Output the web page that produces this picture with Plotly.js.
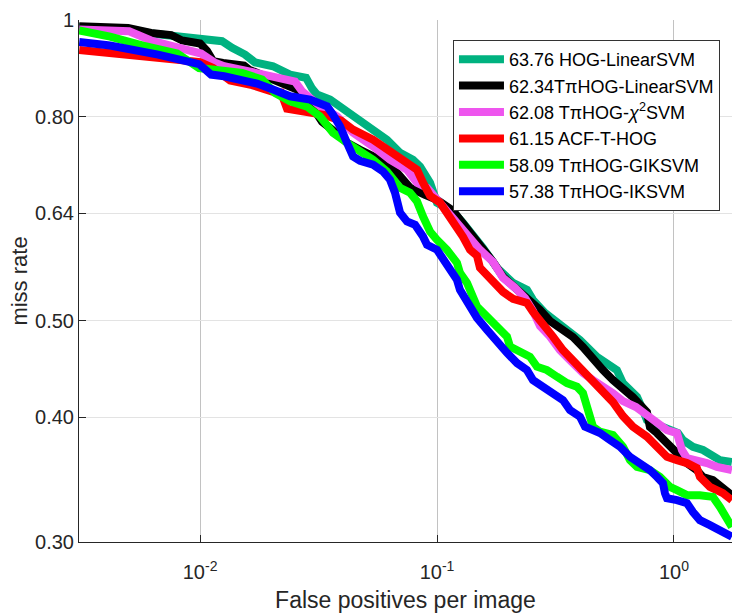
<!DOCTYPE html>
<html>
<head>
<meta charset="utf-8">
<script src="https://cdn.plot.ly/plotly-3.0.1.min.js"></script>
<style>html,body{margin:0;padding:0;background:#fff;}#chart{width:732px;height:613px;}</style>
</head>
<body>
<div id="chart"></div>
<script>
// ---- data (false positives per image, miss rate) ----
const seriesNames = [
  "63.76 HOG-LinearSVM",
  "62.34T\u03c0HOG-LinearSVM",
  "62.08 T\u03c0HOG-<i>\u03c7</i><sup>2</sup>SVM",
  "61.15 ACF-T-HOG",
  "58.09 T\u03c0HOG-GIKSVM",
  "57.38 T\u03c0HOG-IKSVM"
];
const seriesColors = ["#00b280", "#000000", "#ee55ee", "#ff0000", "#00ff00", "#0000ff"];

const fppiHogLinear = [0.00309,0.00497,0.00621,0.00762,0.0100,0.01238,0.01365,0.01548,0.01707,0.02032,0.02397,0.02802,0.02970,0.03116,0.03536,0.04052,0.04597,0.05423,0.06152,0.06982,0.07918,0.08479,0.09344,0.1000,0.1102,0.1168,0.1287,0.1418,0.1563,0.1792,0.2093,0.2397,0.2541,0.2856,0.3304,0.3640,0.4012,0.4732,0.5166,0.5746,0.6093,0.6982,0.7398,0.7692,0.8155,0.9344,1.0396,1.0913,1.2028,1.326,1.461,1.563,1.756];
const mrHogLinear = [0.9840,0.9794,0.9693,0.9637,0.9597,0.9522,0.9378,0.9234,0.9066,0.8989,0.8817,0.8751,0.8537,0.8420,0.8323,0.8133,0.7945,0.7747,0.7587,0.7363,0.7245,0.7134,0.6871,0.6561,0.6486,0.6427,0.6264,0.6094,0.5913,0.5646,0.5454,0.5367,0.5244,0.5089,0.4949,0.4870,0.4781,0.4599,0.4543,0.4460,0.4328,0.4193,0.4067,0.3975,0.3947,0.3902,0.3857,0.3796,0.3737,0.3709,0.3652,0.3624,0.3607];

const fppiTpiLinear = [0.00309,0.00497,0.00621,0.00755,0.00840,0.0100,0.0107,0.01135,0.0125,0.01533,0.0161,0.0188,0.02176,0.02566,0.02912,0.03272,0.03606,0.04172,0.04732,0.05746,0.06781,0.07692,0.0890,0.1000,0.1168,0.1287,0.1418,0.1563,0.1723,0.1899,0.2093,0.2240,0.2468,0.2720,0.2998,0.3401,0.3748,0.4130,0.4551,0.5017,0.5529,0.6093,0.6714,0.7692,0.7918,0.8479,0.9344,1.0296,1.135,1.250,1.326,1.461,1.610,1.756];
const mrTpiLinear = [0.9858,0.9817,0.9704,0.9659,0.9538,0.9472,0.9309,0.9096,0.9055,0.9002,0.8919,0.8797,0.8676,0.8517,0.8246,0.7909,0.7765,0.7534,0.7414,0.7245,0.7031,0.6792,0.6683,0.6607,0.6441,0.6264,0.6080,0.5913,0.5725,0.5530,0.5417,0.5342,0.5244,0.5124,0.4995,0.4893,0.4814,0.4703,0.4564,0.4460,0.4358,0.4278,0.4190,0.4048,0.3911,0.3857,0.3769,0.3683,0.3599,0.3541,0.3484,0.3460,0.3405,0.3342];

const fppiTpiChi2 = [0.00309,0.00502,0.00621,0.00800,0.00907,0.01010,0.01157,0.01263,0.01774,0.02073,0.02517,0.02694,0.03208,0.03785,0.04422,0.05370,0.06335,0.07470,0.08234,0.09074,0.1000,0.1102,0.1214,0.1378,0.1518,0.1723,0.1899,0.2134,0.2351,0.2541,0.2720,0.2998,0.3304,0.3640,0.4130,0.4551,0.5017,0.5529,0.6093,0.6914,0.7692,0.8479,0.9344,1.0296,1.0808,1.135,1.250,1.378,1.518,1.756];
const mrTpiChi2 = [0.9783,0.9745,0.9538,0.9395,0.9305,0.9256,0.9059,0.8989,0.8838,0.8777,0.8676,0.8484,0.8195,0.8006,0.7711,0.7470,0.7245,0.7079,0.6871,0.6792,0.6607,0.6456,0.6264,0.6070,0.5886,0.5725,0.5517,0.5392,0.5268,0.5112,0.4938,0.4818,0.4670,0.4564,0.4430,0.4358,0.4298,0.4229,0.4152,0.4095,0.4020,0.3947,0.3884,0.3857,0.3709,0.3640,0.3624,0.3599,0.3568,0.3541];

const fppiAcfTHog = [0.00309,0.00425,0.00483,0.00784,0.0100,0.01135,0.01339,0.01657,0.02073,0.02197,0.02328,0.02828,0.03368,0.03935,0.04422,0.05370,0.06212,0.07186,0.08234,0.08728,0.09344,0.1030,0.1102,0.1168,0.1287,0.1378,0.1475,0.1518,0.1626,0.1723,0.1899,0.2093,0.2397,0.2541,0.2802,0.3086,0.3401,0.3748,0.4130,0.4551,0.5017,0.5529,0.6093,0.6714,0.7692,0.8479,0.9344,1.0296,1.135,1.250,1.287,1.418,1.610,1.756];
const mrAcfTHog = [0.9331,0.9249,0.9224,0.9128,0.9075,0.8955,0.8696,0.8606,0.8459,0.8459,0.8152,0.8096,0.8029,0.7929,0.7765,0.7587,0.7414,0.7245,0.7079,0.6871,0.6668,0.6561,0.6411,0.6264,0.6066,0.5886,0.5805,0.5646,0.5543,0.5454,0.5342,0.5256,0.5207,0.5101,0.4972,0.4818,0.4670,0.4564,0.4460,0.4358,0.4249,0.4142,0.4011,0.3914,0.3825,0.3737,0.3652,0.3624,0.3599,0.3557,0.3486,0.3407,0.3358,0.3304];

const fppiTpiGik = [0.00309,0.00417,0.00575,0.00800,0.00990,0.01157,0.01504,0.01826,0.02073,0.02397,0.02828,0.03208,0.03640,0.04172,0.04873,0.05370,0.06152,0.06521,0.06982,0.07692,0.08234,0.08728,0.09344,0.1000,0.1102,0.1214,0.1250,0.1339,0.1418,0.1475,0.1626,0.1792,0.1974,0.2032,0.2240,0.2468,0.2642,0.2912,0.3208,0.3536,0.3897,0.4130,0.4295,0.4422,0.4551,0.4873,0.5529,0.6093,0.6521,0.6982,0.7918,0.8728,0.9344,0.9619,1.0296,1.135,1.287,1.461,1.563,1.674,1.756];
const mrTpiGik = [0.9760,0.9626,0.9428,0.9256,0.8951,0.8919,0.8852,0.8716,0.8449,0.8290,0.8189,0.8006,0.7711,0.7534,0.7363,0.7245,0.7051,0.6950,0.6792,0.6714,0.6581,0.6357,0.6140,0.6024,0.5886,0.5711,0.5581,0.5454,0.5292,0.5163,0.5046,0.4930,0.4818,0.4709,0.4641,0.4599,0.4495,0.4460,0.4392,0.4328,0.4292,0.4229,0.4099,0.4005,0.3914,0.3869,0.3840,0.3737,0.3624,0.3568,0.3541,0.3486,0.3436,0.3407,0.3381,0.3342,0.3342,0.3329,0.3253,0.3155,0.3105];

const fppiTpiIk = [0.00309,0.00417,0.00665,0.00990,0.01113,0.01263,0.01594,0.01740,0.02032,0.02397,0.02912,0.03435,0.03640,0.03897,0.04172,0.04422,0.04732,0.05370,0.05917,0.06335,0.06650,0.06781,0.06982,0.07470,0.08077,0.08728,0.09074,0.1000,0.1060,0.1135,0.1214,0.1250,0.1339,0.1475,0.1626,0.1792,0.1974,0.2176,0.2397,0.2541,0.2802,0.3086,0.3401,0.3640,0.4012,0.4213,0.4873,0.5370,0.5917,0.6521,0.7186,0.7918,0.8479,0.8986,0.9162,0.9344,1.0296,1.135,1.2028,1.287,1.418,1.563,1.756];
const mrTpiIk = [0.9504,0.9428,0.9234,0.9034,0.8817,0.8783,0.8676,0.8636,0.8517,0.8387,0.8323,0.8195,0.8038,0.7824,0.7529,0.7300,0.7228,0.7162,0.7051,0.6918,0.6714,0.6531,0.6411,0.6283,0.6236,0.6070,0.5954,0.5886,0.5751,0.5620,0.5492,0.5367,0.5207,0.5031,0.4893,0.4749,0.4641,0.4532,0.4460,0.4358,0.4292,0.4229,0.4162,0.4067,0.4005,0.3914,0.3857,0.3796,0.3737,0.3652,0.3599,0.3541,0.3486,0.3436,0.3358,0.3319,0.3304,0.3281,0.3215,0.3155,0.3119,0.3083,0.3036];

const xTickVals = [0.01, 0.1, 1];
const xTickText = ["10<sup>-2</sup>", "10<sup>-1</sup>", "10<sup>0</sup>"];
const yTickVals = [0.30, 0.40, 0.50, 0.64, 0.80, 1];
const yTickText = ["0.30", "0.40", "0.50", "0.64", "0.80", "1"];

const xs = [fppiHogLinear, fppiTpiLinear, fppiTpiChi2, fppiAcfTHog, fppiTpiGik, fppiTpiIk];
const ys = [mrHogLinear, mrTpiLinear, mrTpiChi2, mrAcfTHog, mrTpiGik, mrTpiIk];

const traces = xs.map((x, i) => ({
  type: 'scatter', mode: 'lines', x: x, y: ys[i], name: seriesNames[i],
  line: {color: seriesColors[i], width: 8, shape: 'linear'},
  hoverinfo: 'skip'
}));

const axisColor = '#262626';
const layout = {
  width: 732, height: 613,
  margin: {l: 79, r: 0, t: 20, b: 71, pad: 0},
  paper_bgcolor: '#ffffff', plot_bgcolor: '#ffffff',
  font: {family: 'Liberation Sans, Arial, Helvetica, sans-serif', color: axisColor, size: 20},
  showlegend: true,
  xaxis: {
    type: 'log', range: [-2.511, 0.245], autorange: false,
    tickmode: 'array', tickvals: xTickVals, ticktext: xTickText,
    ticks: 'inside', ticklen: 7, tickwidth: 1, tickcolor: axisColor,
    ticklabelstandoff: 12,
    showline: true, linecolor: axisColor, linewidth: 1, mirror: false,
    showgrid: true, gridcolor: '#c2c2c2', gridwidth: 1, zeroline: false,
    tickfont: {size: 20, color: axisColor},
    title: {text: 'False positives per image', font: {size: 23, color: axisColor}, standoff: 9}
  },
  yaxis: {
    type: 'log', range: [Math.log10(0.3), 0], autorange: false,
    tickmode: 'array', tickvals: yTickVals, ticktext: yTickText,
    ticks: 'inside', ticklen: 7, tickwidth: 1, tickcolor: axisColor,
    showline: true, linecolor: axisColor, linewidth: 1, mirror: false,
    showgrid: true, gridcolor: '#e3e3e3', gridwidth: 1, zeroline: false,
    tickfont: {size: 20, color: axisColor},
    title: {text: 'miss rate', font: {size: 22, color: axisColor}, standoff: 1}
  },
  legend: {
    x: 0.5727, y: 0.9617, xanchor: 'left', yanchor: 'top',
    bgcolor: '#ffffff', bordercolor: '#333333', borderwidth: 1,
    font: {size: 18, color: '#000000'}, itemwidth: 45, tracegroupgap: 0
  }
};

Plotly.newPlot('chart', traces, layout, {displayModeBar: false, staticPlot: true});
</script>
</body>
</html>
